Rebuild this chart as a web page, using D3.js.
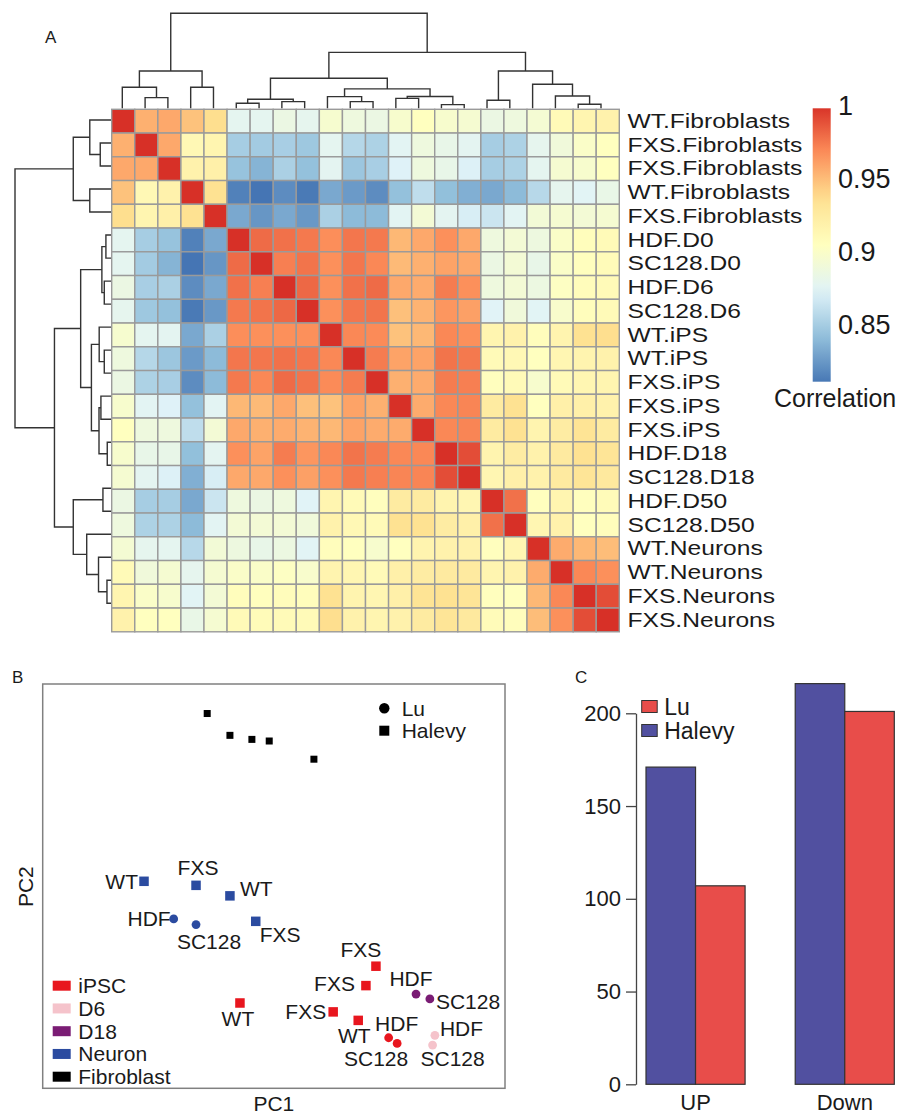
<!DOCTYPE html>
<html lang="en">
<head>
<meta charset="UTF-8">
<title>Correlation heatmap, PCA and DE counts</title>
<script src="https://d3js.org/d3.v7.min.js"></script>
<style>
  body { margin: 0; background: #fff; }
  svg { font-family: "Liberation Sans", Arial, sans-serif; }
  .lbl { fill: #1a1a1a; }
  .dendro { fill: none; stroke: #333; stroke-width: 1.4; }
  .axisC path, .axisC line { stroke: #444; stroke-width: 1.3; }
  .axisC text { font-size: 22px; fill: #1a1a1a; font-family: "Liberation Sans", Arial, sans-serif; }
</style>
</head>
<body>
<svg id="fig" width="907" height="1115"></svg>
<script>
// ---------------- data ----------------
const samples = [
  "WT.Fibroblasts", "FXS.Fibroblasts", "FXS.Fibroblasts", "WT.Fibroblasts", "FXS.Fibroblasts",
  "HDF.D0", "SC128.D0", "HDF.D6", "SC128.D6", "WT.iPS", "WT.iPS", "FXS.iPS", "FXS.iPS", "FXS.iPS",
  "HDF.D18", "SC128.D18", "HDF.D50", "SC128.D50", "WT.Neurons", "WT.Neurons", "FXS.Neurons", "FXS.Neurons"
];

// correlation matrix, rows/cols in the clustered order above
const corr = [
  [1, .955, .958, .948, .937, .878, .878, .885, .879, .896, .888, .885, .897, .905, .897, .895, .885, .888, .894, .91, .915, .918],
  [.955, 1, .958, .912, .915, .85, .849, .851, .847, .878, .856, .853, .876, .888, .882, .877, .85, .853, .879, .89, .9, .905],
  [.958, .958, 1, .918, .92, .844, .837, .852, .843, .877, .846, .851, .873, .888, .882, .872, .85, .853, .878, .895, .897, .905],
  [.948, .912, .918, 1, .935, .815, .81, .82, .812, .832, .826, .82, .843, .86, .842, .835, .832, .84, .857, .879, .875, .883],
  [.937, .915, .92, .935, 1, .832, .824, .832, .825, .852, .84, .84, .876, .893, .877, .87, .865, .876, .892, .895, .893, .895],
  [.878, .85, .844, .815, .832, 1, .98, .978, .975, .968, .976, .975, .952, .958, .967, .958, .888, .893, .887, .9, .907, .91],
  [.878, .849, .837, .81, .824, .98, 1, .973, .977, .967, .976, .97, .951, .955, .96, .958, .885, .893, .882, .9, .906, .909],
  [.885, .851, .852, .82, .832, .978, .973, 1, .981, .967, .978, .98, .958, .957, .974, .967, .888, .893, .886, .903, .908, .91],
  [.879, .847, .843, .812, .825, .975, .977, .981, 1, .967, .976, .977, .949, .954, .965, .961, .874, .89, .875, .898, .907, .91],
  [.896, .878, .877, .832, .852, .968, .967, .967, .967, 1, .97, .969, .948, .952, .97, .967, .915, .918, .907, .916, .935, .937],
  [.888, .856, .846, .826, .84, .976, .976, .978, .976, .97, 1, .974, .96, .96, .977, .975, .91, .912, .905, .914, .916, .918],
  [.885, .853, .851, .82, .84, .975, .97, .98, .977, .969, .974, 1, .955, .957, .974, .973, .906, .91, .897, .91, .914, .915],
  [.897, .876, .873, .843, .876, .952, .951, .958, .949, .948, .96, .955, 1, .957, .97, .971, .925, .935, .905, .92, .92, .918],
  [.905, .888, .888, .86, .893, .958, .955, .957, .954, .952, .96, .957, .957, 1, .97, .971, .925, .935, .916, .924, .933, .925],
  [.897, .882, .882, .842, .877, .967, .96, .974, .965, .97, .977, .974, .97, .97, 1, .99, .916, .924, .918, .926, .935, .932],
  [.895, .877, .872, .835, .87, .958, .958, .967, .961, .967, .975, .973, .971, .971, .99, 1, .914, .92, .918, .926, .932, .927],
  [.885, .85, .85, .832, .865, .888, .885, .888, .874, .915, .91, .906, .925, .925, .916, .914, 1, .978, .906, .915, .906, .909],
  [.888, .853, .853, .84, .876, .893, .893, .893, .89, .918, .912, .91, .935, .935, .924, .92, .978, 1, .914, .918, .905, .907],
  [.894, .879, .878, .857, .892, .887, .882, .886, .875, .907, .905, .897, .905, .916, .918, .918, .906, .914, 1, .957, .952, .95],
  [.91, .89, .895, .879, .895, .9, .9, .903, .898, .916, .914, .91, .92, .924, .926, .926, .915, .918, .957, 1, .97, .967],
  [.915, .9, .897, .875, .893, .907, .906, .908, .907, .935, .916, .914, .92, .933, .935, .932, .906, .905, .952, .97, 1, .99],
  [.918, .905, .905, .883, .895, .91, .909, .91, .91, .937, .918, .915, .918, .925, .932, .927, .909, .907, .95, .967, .99, 1]
];

// hierarchical clustering: [left, right, mergeHeight]; numbers are leaf indices
const clusterTree = [
  [[0, [1, 2, 0.112], 0.221], [3, 4, 0.221], 0.393],
  [
    [
      [[5, 6, 0.053], [7, 8, 0.07], 0.095],
      [[9, [10, 11, 0.07], 0.123], [[12, 13, 0.105], [14, 15, 0.039], 0.125], 0.204],
      0.316
    ],
    [[16, 17, 0.084], [18, [19, [20, 21, 0.042], 0.13], 0.253], 0.393],
    0.589
  ],
  1.0
];

const corrTicks = [1, 0.95, 0.9, 0.85];
const corrRange = [0.81, 1];

// PCA (panel B)
const cellTypes = ["iPSC", "D6", "D18", "Neuron", "Fibroblast"];
const studies = ["Lu", "Halevy"];
const pcaLabels = ["", "", "", "", "", "WT", "FXS", "WT", "FXS", "HDF", "SC128",
  "WT", "FXS", "FXS", "FXS", "WT", "HDF", "SC128", "HDF", "SC128", "HDF", "SC128"];
const pcaType = ["Fibroblast", "Fibroblast", "Fibroblast", "Fibroblast", "Fibroblast",
  "Neuron", "Neuron", "Neuron", "Neuron", "Neuron", "Neuron",
  "iPSC", "iPSC", "iPSC", "iPSC", "iPSC", "iPSC", "iPSC", "D18", "D18", "D6", "D6"];
const pcaStudy = ["Halevy", "Halevy", "Halevy", "Halevy", "Halevy",
  "Halevy", "Halevy", "Halevy", "Halevy", "Lu", "Lu",
  "Halevy", "Halevy", "Halevy", "Halevy", "Halevy", "Lu", "Lu", "Lu", "Lu", "Lu", "Lu"];
const pc1 = [-17.3, -11.4, -5.7, -1.2, 10.4, -33.7, -20.2, -11.4, -4.7, -26.0, -20.2,
  -8.8, 26.5, 23.9, 15.4, 21.9, 29.8, 32.0, 36.9, 40.5, 41.8, 41.2];
const pc2 = [42.7, 37.3, 36.3, 35.9, 31.4, 1.2, 0.2, -2.4, -8.7, -8.1, -9.5,
  -28.9, -19.8, -24.6, -31.1, -33.2, -37.5, -38.9, -26.7, -27.9, -36.9, -39.3];

// DE gene counts (panel C)
const directions = ["UP", "Down"];
const deStudies = ["Halevy", "Lu"];
const halevyCounts = [171, 216];
const luCounts = [107, 201];
const countTicks = [0, 50, 100, 150, 200];

// ---------------- styles / layout tables ----------------
const rdylbu = ["#4575B4", "#91BFDB", "#E0F3F8", "#FFFFBF", "#FEE090", "#FC8D59", "#D73027"];
const typeColor = { iPSC: "#E8161E", D6: "#F5C3CB", D18: "#7A1C74", Neuron: "#2B4BA0", Fibroblast: "#000000" };
const studyColor = { Halevy: "#5150A0", Lu: "#E84D4A" };
// label nudges for panel B: [dx, dy, anchor]
const labelNudge = [null, null, null, null, null,
  [-6, 0, "end"], [2, -18, "middle"], [10, -7, "start"], [4, 13, "start"], [-3, 0, "end"], [13, 17, "middle"],
  [-2, 16, "middle"], [-15, -17, "middle"], [-11, -2, "end"], [-7, 0, "end"], [-4, 15, "middle"],
  [8, -14, "middle"], [-21, 15, "middle"], [-5, -16, "middle"], [6, 3, "start"], [5, -7, "start"], [20, 13, "middle"]];

const svg = d3.select("#fig");

// ================= Panel A =================
svg.append("text").attr("class", "lbl").attr("x", 45).attr("y", 43).style("font-size", "17px").text("A");

const n = samples.length;
const hmX = d3.scaleBand().domain(d3.range(n)).range([111.7, 619.3]);
const hmY = d3.scaleBand().domain(d3.range(n)).range([109.3, 631.8]);
const heatColor = d3.scaleLinear()
  .domain(rdylbu.map((c, i) => corrRange[0] + i * (corrRange[1] - corrRange[0]) / (rdylbu.length - 1)))
  .range(rdylbu)
  .clamp(true);

svg.append("g").selectAll("g").data(corr).join("g")
  .attr("transform", (d, i) => `translate(0,${hmY(i)})`)
  .selectAll("rect").data(d => d).join("rect")
  .attr("x", (d, j) => hmX(j))
  .attr("width", hmX.bandwidth())
  .attr("height", hmY.bandwidth())
  .attr("fill", d => heatColor(d))
  .attr("stroke", "#9a9a9a")
  .attr("stroke-width", 1.4);

// row labels (the source renders them slightly stretched)
svg.append("g").selectAll("text").data(samples).join("text")
  .attr("class", "lbl")
  .attr("transform", (d, i) => `translate(627.5,${hmY(i) + hmY.bandwidth() / 2}) scale(1.23,1)`)
  .attr("dominant-baseline", "central")
  .style("font-size", "20px")
  .text(d => d);

// dendrograms
function layoutTree(node, leafPos) {
  if (typeof node === "number") return { pos: leafPos(node), h: 0 };
  const l = layoutTree(node[0], leafPos);
  const r = layoutTree(node[1], leafPos);
  return { pos: (l.pos + r.pos) / 2, h: node[2], l, r };
}
function collect(node, out) {
  if (!node.l) return out;
  out.push(node);
  collect(node.l, out);
  collect(node.r, out);
  return out;
}

const topLeaf = d3.scalePoint().domain(d3.range(n)).range([122.3, 601]);
const topH = d3.scaleLinear().domain([0, 1]).range([108.3, 13.3]);
const topNodes = collect(layoutTree(clusterTree, topLeaf), []);
svg.append("g").selectAll("path").data(topNodes).join("path")
  .attr("class", "dendro")
  .attr("d", d => `M${d.l.pos},${topH(d.l.h)}V${topH(d.h)}H${d.r.pos}V${topH(d.r.h)}`);

const leftLeaf = d3.scalePoint().domain(d3.range(n)).range([120, 603.3]);
const leftH = d3.scaleLinear().domain([0, 1]).range([111, 15]);
const leftNodes = collect(layoutTree(clusterTree, leftLeaf), []);
svg.append("g").selectAll("path").data(leftNodes).join("path")
  .attr("class", "dendro")
  .attr("d", d => `M${leftH(d.l.h)},${d.l.pos}H${leftH(d.h)}V${d.r.pos}H${leftH(d.r.h)}`);

// colour bar
const cbY = d3.scaleLinear().domain([0.85, 0.95]).range([325, 179]);
const cbTop = 108.3, cbBot = 381.7;
const grad = svg.append("defs").append("linearGradient")
  .attr("id", "cbGrad").attr("x1", 0).attr("y1", 1).attr("x2", 0).attr("y2", 0);
d3.range(0, 1.0001, 0.05).forEach(t => {
  const v = cbY.invert(cbBot + t * (cbTop - cbBot));
  grad.append("stop").attr("offset", t).attr("stop-color", heatColor(v));
});
svg.append("rect").attr("x", 812.7).attr("y", cbTop).attr("width", 18).attr("height", cbBot - cbTop)
  .attr("fill", "url(#cbGrad)");
svg.append("g").selectAll("text").data(corrTicks).join("text")
  .attr("class", "lbl")
  .attr("x", 838).attr("y", d => cbY(d))
  .attr("dominant-baseline", "central")
  .style("font-size", "27px")
  .text(d => d);
svg.append("text").attr("class", "lbl").attr("x", 774).attr("y", 398)
  .attr("dominant-baseline", "central").style("font-size", "25px").text("Correlation");

// ================= Panel B =================
svg.append("text").attr("class", "lbl").attr("x", 12).attr("y", 683).style("font-size", "17px").text("B");

const bx = d3.scaleLinear().domain([-60, 60]).range([42.7, 505]);
const by = d3.scaleLinear().domain([-50, 50]).range([1088.3, 684]);
svg.append("rect").attr("x", bx(-60)).attr("y", by(50))
  .attr("width", bx(60) - bx(-60)).attr("height", by(-50) - by(50))
  .attr("fill", "none").attr("stroke", "#808080").attr("stroke-width", 1.5);

const pts = pc1.map((v, i) => ({ x: v, y: pc2[i], type: pcaType[i], study: pcaStudy[i], label: pcaLabels[i], nudge: labelNudge[i] }));
const gB = svg.append("g");
gB.selectAll("rect.pt").data(pts.filter(d => d.study === "Halevy")).join("rect")
  .attr("class", "pt")
  .each(function (d) {
    const s = d.type === "Fibroblast" ? 7 : 9.5;
    d3.select(this).attr("x", bx(d.x) - s / 2).attr("y", by(d.y) - s / 2).attr("width", s).attr("height", s);
  })
  .attr("fill", d => typeColor[d.type]);
gB.selectAll("circle.pt").data(pts.filter(d => d.study === "Lu")).join("circle")
  .attr("class", "pt")
  .attr("cx", d => bx(d.x)).attr("cy", d => by(d.y)).attr("r", 4.4)
  .attr("fill", d => typeColor[d.type]);
gB.selectAll("text").data(pts.filter(d => d.label)).join("text")
  .attr("class", "lbl")
  .attr("x", d => bx(d.x) + d.nudge[0])
  .attr("y", d => by(d.y) + d.nudge[1])
  .attr("text-anchor", d => d.nudge[2])
  .attr("dominant-baseline", "central")
  .style("font-size", "21px")
  .text(d => d.label);

// cell type legend
const legB = svg.append("g").attr("transform", "translate(52.7,985.7)");
legB.selectAll("rect").data(cellTypes).join("rect")
  .attr("x", 0).attr("y", (d, i) => i * 22.75 - 5).attr("width", 18).attr("height", 10)
  .attr("fill", d => typeColor[d]);
legB.selectAll("text").data(cellTypes).join("text")
  .attr("class", "lbl")
  .attr("x", 25.6).attr("y", (d, i) => i * 22.75)
  .attr("dominant-baseline", "central").style("font-size", "21px")
  .text(d => d);

// study legend
const legS = svg.append("g").attr("transform", "translate(384.3,708.3)");
legS.append("circle").attr("cx", 0).attr("cy", 0).attr("r", 5.2).attr("fill", "#000");
legS.append("rect").attr("x", -5).attr("y", 22.4 - 5).attr("width", 10).attr("height", 10).attr("fill", "#000");
legS.selectAll("text").data(studies).join("text")
  .attr("class", "lbl")
  .attr("x", 17.4).attr("y", (d, i) => i * 22.4)
  .attr("dominant-baseline", "central").style("font-size", "21px")
  .text(d => d);

svg.append("text").attr("class", "lbl")
  .attr("transform", "translate(25,886.7) rotate(-90)")
  .attr("text-anchor", "middle").attr("dominant-baseline", "central")
  .style("font-size", "21px").text("PC2");
svg.append("text").attr("class", "lbl")
  .attr("x", (bx(-60) + bx(60)) / 2).attr("y", 1103)
  .attr("text-anchor", "middle").attr("dominant-baseline", "central")
  .style("font-size", "21px").text("PC1");

// ================= Panel C =================
svg.append("text").attr("class", "lbl").attr("x", 575).attr("y", 683).style("font-size", "17px").text("C");

const cy = d3.scaleLinear().domain([0, 200]).range([1084.3, 713.3]);
const cx0 = d3.scaleBand().domain(directions).range([646, 894.3]).paddingInner(0.336);
const cx1 = d3.scaleBand().domain(deStudies).range([0, cx0.bandwidth()]);

svg.append("g").attr("class", "axisC")
  .attr("transform", "translate(636,0)")
  .call(d3.axisLeft(cy).tickValues(countTicks).tickSize(10).tickSizeOuter(0).tickPadding(5));

const barRows = directions.map((dir, i) => ({ dir, values: [halevyCounts[i], luCounts[i]] }));
svg.append("g").selectAll("g").data(barRows).join("g")
  .attr("transform", d => `translate(${cx0(d.dir)},0)`)
  .selectAll("rect").data(d => d.values.map((v, k) => ({ study: deStudies[k], v }))).join("rect")
  .attr("x", d => cx1(d.study))
  .attr("y", d => cy(d.v))
  .attr("width", cx1.bandwidth())
  .attr("height", d => cy(0) - cy(d.v))
  .attr("fill", d => studyColor[d.study])
  .attr("stroke", "#333").attr("stroke-width", 1.2);

svg.append("g").selectAll("text").data(directions).join("text")
  .attr("class", "lbl")
  .attr("x", d => cx0(d) + cx0.bandwidth() / 2).attr("y", 1102)
  .attr("text-anchor", "middle").attr("dominant-baseline", "central")
  .style("font-size", "22px").text(d => d);

// legend C (Lu first, as drawn)
const legC = svg.append("g").attr("transform", "translate(641.7,706.5)");
["Lu", "Halevy"].forEach((s, i) => {
  legC.append("rect").attr("x", 0).attr("y", i * 24 - 6).attr("width", 15.5).attr("height", 12)
    .attr("fill", studyColor[s]).attr("stroke", "#333").attr("stroke-width", 1);
  legC.append("text").attr("class", "lbl").attr("x", 22.5).attr("y", i * 24)
    .attr("dominant-baseline", "central").style("font-size", "23px").text(s);
});
</script>
</body>
</html>
